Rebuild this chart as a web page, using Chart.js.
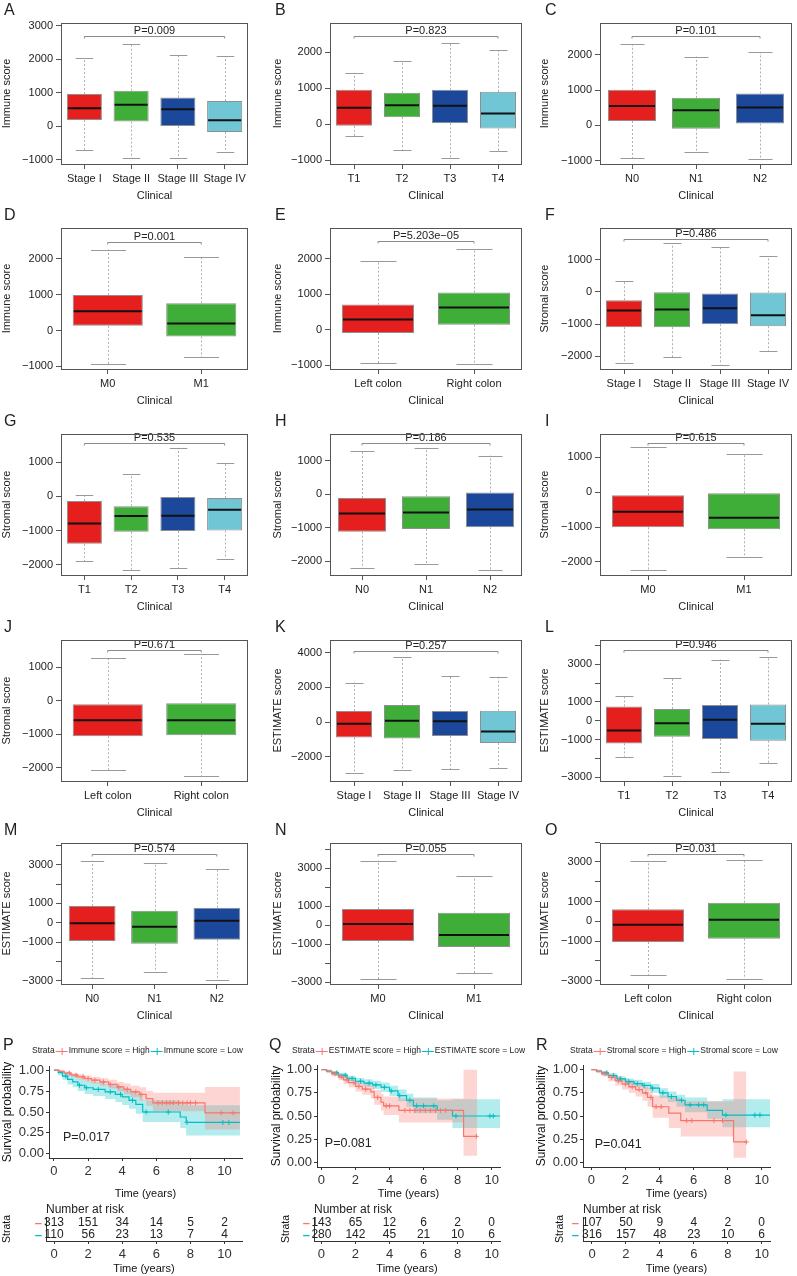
<!DOCTYPE html>
<html><head><meta charset="utf-8">
<script src="https://cdn.jsdelivr.net/npm/chart.js@4.4.1/dist/chart.umd.min.js"></script>
<style>
body{margin:0;background:#fff;}
#root{position:relative;width:797px;height:1276px;overflow:hidden;font-family:"Liberation Sans",Arial,sans-serif;background:#fff;}
canvas{position:absolute;}
.lbl{position:absolute;font-size:16px;color:#222;line-height:1;}
</style></head><body><div id="root"></div>
<script>
// ---------------- categories ----------------
const STAGES = ['Stage I','Stage II','Stage III','Stage IV'];
const TSTAGES = ['T1','T2','T3','T4'];
const NSTAGES = ['N0','N1','N2'];
const MSTAGES = ['M0','M1'];
const SIDES = ['Left colon','Right colon'];

// ---------------- tick values / labels ----------------
const IMM3_TICKS = [-1000,0,1000,2000,3000];
const IMM3_LABELS = ['\u22121000','0','1000','2000','3000'];
const IMM_TICKS = [-1000,0,1000,2000];
const IMM_LABELS = ['\u22121000','0','1000','2000'];
const STR_TICKS = [-2000,-1000,0,1000];
const STR_LABELS = ['\u22122000','\u22121000','0','1000'];
const K_TICKS = [-2000,0,2000,4000];
const K_LABELS = ['\u22122000','0','2000','4000'];
const EST_TICKS = [-3000,-2000,-1000,0,1000,2000,3000,4000];
const EST_LABELS = ['\u22123000','','\u22121000','0','1000','','3000',''];

// ---------------- box statistics (min, q1, median, q3, max) ----------------
const A_min=[-720,-940,-950,-760], A_q1=[190,140,10,-170], A_med=[540,640,510,180], A_q3=[960,1060,860,750], A_max=[2030,2450,2120,2080];
const B_min=[-320,-715,-940,-745], B_q1=[-40,200,30,-115], B_med=[460,530,520,300], B_q3=[960,875,960,905], B_max=[1430,1760,2250,2050];
const C_min=[-930,-750,-950], C_q1=[125,-95,50], C_med=[550,430,510], C_q3=[1010,780,905], C_max=[2310,1950,2070];
const D_min=[-945,-750], D_q1=[130,-165], D_med=[540,195], D_q3=[990,760], D_max=[2260,2065];
const E_min=[-950,-970], E_q1=[-95,140], E_med=[290,625], E_q3=[710,1050], E_max=[1935,2290];
const F_min=[-2210,-2030,-2250,-1840], F_q1=[-1095,-1095,-1005,-1065], F_med=[-580,-550,-510,-725], F_q3=[-260,0,-50,-20], F_max=[350,1500,1385,1095];
const G_min=[-1890,-2150,-2110,-1820], G_q1=[-1390,-1035,-1015,-1000], G_med=[-795,-575,-565,-395], G_q3=[-135,-290,-20,-50], G_max=[40,650,1420,960];
const H_min=[-2190,-2080,-2250], H_q1=[-1115,-1035,-985], H_med=[-575,-545,-460], H_q3=[-115,-60,50], H_max=[1280,1380,1145];
const I_min=[-2225,-1860], I_q1=[-1010,-1065], I_med=[-565,-735], I_q3=[-85,-30], I_max=[1285,1095];
const J_min=[-2080,-2250], J_q1=[-1060,-1030], J_med=[-580,-580], J_q3=[-100,-70], J_max=[1290,1400];
const K_min=[-2940,-2760,-2720,-2630], K_q1=[-890,-945,-810,-1215], K_med=[-95,75,40,-540], K_q3=[640,985,640,655], K_max=[2280,3730,2630,2610];
const L_min=[-1910,-2940,-2745,-2265], L_q1=[-1205,-850,-975,-1060], L_med=[-515,-140,55,-160], L_q3=[760,620,830,865], L_max=[1290,2285,3240,3400];
const M_min=[-2880,-2540,-2960], M_q1=[-950,-1085,-880], M_med=[-35,-205,105], M_q3=[860,620,775], M_max=[3205,3105,2775];
const N_min=[-2850,-2550], N_q1=[-842,-1158], N_med=[53,-526], N_q3=[842,649], N_max=[3386,2579];
const O_min=[-2700,-2900], O_q1=[-1042,-874], O_med=[-168,84], O_q3=[605,941], O_max=[3042,3092];

// p-values and bracket heights
const P_TEXTS = ['P=0.009','P=0.823','P=0.101','P=0.001','P=5.203e\u221205','P=0.486','P=0.535','P=0.186','P=0.615','P=0.671','P=0.257','P=0.946','P=0.574','P=0.055','P=0.031'];
const P_BRACKET = [2690,2465,2540,2465,2510,1635,1555,1515,1405,1520,4115,3735,3570,3755,3410];
// y-axis ranges [min,max]
const Y_RANGES = [[-1124,3078],[-1100,2813],[-1096,2904],[-1074,2861],[-1113,2877],[-2389,1975],[-2301,1822],[-2405,1789],[-2377,1670],[-2400,1820],[-3400,4734],[-3200,4283],[-3170,4121],[-3105,4316],[-3160,3950]];

// ---------------- survival data ----------------
const KM_XTICKS = [0,2,4,6,8,10];
const KM_YTICKS = [0,0.25,0.5,0.75,1];
const KM_YLABELS = ['0.00','0.25','0.50','0.75','1.00'];
const RISK_TIMES = [0,2,4,6,8,10];

const P_high_t  = [0,0.3,0.6,1.0,1.4,1.8,2.2,2.7,3.2,3.7,4.1,4.5,5.0,5.4,5.8,8.85,10.9];
const P_high_s  = [1,0.985,0.965,0.94,0.92,0.90,0.88,0.86,0.83,0.80,0.77,0.74,0.71,0.66,0.61,0.49,0.49];
const P_high_lo = [1,0.97,0.945,0.915,0.89,0.865,0.84,0.815,0.78,0.745,0.71,0.675,0.635,0.575,0.51,0.29,0.29];
const P_high_hi = [1,1.0,0.985,0.965,0.95,0.935,0.92,0.905,0.885,0.86,0.84,0.815,0.795,0.755,0.73,0.80,0.80];
const P_low_t   = [0,0.25,0.5,0.8,1.1,1.4,1.8,2.3,3.0,3.6,4.0,4.4,4.8,5.2,7.4,7.75,10.9];
const P_low_s   = [1,0.97,0.93,0.89,0.86,0.82,0.79,0.77,0.74,0.71,0.68,0.64,0.59,0.50,0.44,0.375,0.375];
const P_low_lo  = [1,0.94,0.885,0.83,0.795,0.75,0.715,0.69,0.655,0.62,0.585,0.54,0.48,0.38,0.31,0.22,0.22];
const P_low_hi  = [1,1.0,0.98,0.95,0.93,0.90,0.875,0.855,0.83,0.81,0.785,0.755,0.715,0.64,0.59,0.58,0.58];
const P_high_cens = [0.9,1.3,1.7,2.0,2.4,2.9,3.3,3.8,4.3,4.8,5.1,6.1,6.35,6.6,6.8,7.0,7.3,7.55,7.8,8.0,8.3,9.8,10.5];
const P_low_cens  = [0.7,1.5,1.9,2.6,3.3,3.9,4.6,5.4,6.7,7.8,9.9,10.25];
const P_risk_high = [313,151,34,14,5,2];
const P_risk_low  = [110,56,23,13,7,4];

const Q_high_t  = [0,0.3,0.6,1.0,1.3,1.6,2.0,2.4,2.9,3.1,3.5,3.65,4.55,8.35,9.15];
const Q_high_s  = [1,0.98,0.955,0.92,0.89,0.86,0.82,0.79,0.76,0.70,0.65,0.61,0.56,0.28,0.28];
const Q_high_lo = [1,0.96,0.93,0.885,0.845,0.81,0.765,0.73,0.69,0.62,0.56,0.51,0.43,0.07,0.07];
const Q_high_hi = [1,1.0,0.98,0.955,0.93,0.905,0.875,0.85,0.83,0.78,0.74,0.71,0.69,1.0,1.0];
const Q_low_t   = [0,0.3,0.6,1.0,1.5,2.0,2.5,3.0,3.5,4.0,4.5,5.0,5.4,6.8,7.7,10.5];
const Q_low_s   = [1,0.985,0.965,0.94,0.905,0.875,0.855,0.835,0.81,0.77,0.72,0.67,0.61,0.56,0.50,0.50];
const Q_low_lo  = [1,0.97,0.945,0.915,0.875,0.84,0.815,0.79,0.76,0.715,0.66,0.60,0.53,0.46,0.37,0.37];
const Q_low_hi  = [1,1.0,0.985,0.965,0.935,0.91,0.895,0.88,0.86,0.825,0.785,0.74,0.70,0.67,0.68,0.68];
const Q_high_cens = [0.8,1.2,1.5,1.9,2.2,2.6,3.3,3.8,4.0,4.9,5.2,5.5,5.8,6.1,6.4,6.7,7.0,7.3,9.1];
const Q_low_cens  = [0.9,1.4,1.8,2.3,2.8,3.2,3.7,4.1,4.6,5.2,5.6,6.0,6.6,7.9,9.9,10.1];
const Q_risk_high = [143,65,12,6,2,0];
const Q_risk_low  = [280,142,45,21,10,6];

const R_high_t  = [0,0.3,0.6,1.0,1.4,1.8,2.2,2.6,3.0,3.3,3.6,4.55,5.25,8.35,9.1];
const R_high_s  = [1,0.98,0.955,0.915,0.88,0.845,0.815,0.785,0.75,0.70,0.60,0.53,0.45,0.22,0.22];
const R_high_lo = [1,0.96,0.93,0.875,0.83,0.785,0.75,0.71,0.665,0.60,0.48,0.37,0.28,0.05,0.05];
const R_high_hi = [1,1.0,0.98,0.955,0.93,0.905,0.885,0.86,0.835,0.80,0.72,0.70,0.66,0.98,0.98];
const R_low_t   = [0,0.3,0.6,1.0,1.5,2.0,2.5,3.0,3.5,4.0,4.5,5.0,5.5,6.8,7.7,10.5];
const R_low_s   = [1,0.985,0.965,0.935,0.90,0.87,0.85,0.83,0.80,0.75,0.71,0.67,0.62,0.56,0.51,0.51];
const R_low_lo  = [1,0.97,0.945,0.91,0.87,0.835,0.81,0.785,0.75,0.695,0.65,0.60,0.54,0.47,0.38,0.38];
const R_low_hi  = [1,1.0,0.985,0.96,0.93,0.905,0.89,0.87,0.845,0.80,0.765,0.73,0.70,0.66,0.68,0.68];
const R_high_cens = [0.8,1.2,1.6,2.0,2.4,2.8,3.2,3.5,3.8,4.1,5.6,5.9,7.2,7.7,9.1];
const R_low_cens  = [0.9,1.3,1.7,2.2,2.7,3.1,3.6,4.2,4.7,5.3,5.8,6.3,6.6,7.9,9.6,9.9];
const R_risk_high = [107,50,9,4,2,0];
const R_risk_low  = [316,157,48,23,10,6];

// ---------------- styles ----------------
const FONT = '"Liberation Sans", Arial, Helvetica, sans-serif';
Chart.defaults.font.family = FONT;
Chart.defaults.color = '#222';
const BOX_COLORS = ['#E41F1D','#3FAE38','#1B489B','#70C6D5'];
const KM_RED = '#F8766D', KM_CYAN = '#00BFC4';
const KM_RED_A = 'rgba(248,118,109,0.3)', KM_CYAN_A = 'rgba(0,191,196,0.3)';

const root = document.getElementById('root');
function mkCanvas(x,y,w,h){
  const c=document.createElement('canvas'); c.width=w; c.height=h;
  c.style.left=x+'px'; c.style.top=y+'px'; c.style.width=w+'px'; c.style.height=h+'px';
  root.appendChild(c); return c;
}
function letter(t,x,y){
  const d=document.createElement('div'); d.className='lbl'; d.textContent=t;
  d.style.left=x+'px'; d.style.top=y+'px'; root.appendChild(d);
}

// ---------------- boxplot plugin ----------------
const boxPlugin = {
  id:'boxExtras',
  beforeDatasetsDraw(chart, args, o){
    const {ctx, chartArea:a, scales:{y}} = chart;
    const meta = chart.getDatasetMeta(0);
    ctx.save();
    ctx.beginPath(); ctx.rect(a.left,a.top,a.width,a.height); ctx.clip();
    meta.data.forEach((bar,i)=>{
      const cx = Math.round(bar.x)+0.5, w = bar.width;
      ctx.strokeStyle='#9a9a9a'; ctx.lineWidth=0.8; ctx.setLineDash([2,2]);
      ctx.beginPath();
      ctx.moveTo(cx, y.getPixelForValue(o.q3[i])); ctx.lineTo(cx, y.getPixelForValue(o.max[i]));
      ctx.moveTo(cx, y.getPixelForValue(o.q1[i])); ctx.lineTo(cx, y.getPixelForValue(o.min[i]));
      ctx.stroke();
      ctx.setLineDash([]); ctx.lineWidth=1; ctx.strokeStyle='#999';
      ctx.beginPath();
      [o.max[i], o.min[i]].forEach(v=>{
        const py=Math.round(y.getPixelForValue(v))+0.5;
        ctx.moveTo(cx-w/4,py); ctx.lineTo(cx+w/4,py);
      });
      ctx.stroke();
    });
    ctx.restore();
  },
  afterDatasetsDraw(chart, args, o){
    const {ctx, chartArea:a, scales:{y}} = chart;
    const meta = chart.getDatasetMeta(0);
    ctx.save();
    ctx.strokeStyle='#111'; ctx.lineWidth=2;
    meta.data.forEach((bar,i)=>{
      const py = y.getPixelForValue(o.med[i]);
      ctx.beginPath(); ctx.moveTo(bar.x-bar.width/2+1, py); ctx.lineTo(bar.x+bar.width/2-1, py); ctx.stroke();
    });
    const x0 = meta.data[0].x, x1 = meta.data[meta.data.length-1].x;
    const by = Math.round(y.getPixelForValue(o.pY))+0.5;
    ctx.strokeStyle='#8a8a8a'; ctx.lineWidth=1;
    ctx.beginPath(); ctx.moveTo(x0, by+2); ctx.lineTo(x0, by); ctx.lineTo(x1, by); ctx.lineTo(x1, by+2); ctx.stroke();
    ctx.fillStyle='#222'; ctx.font='11px '+FONT; ctx.textAlign='center'; ctx.textBaseline='bottom';
    ctx.fillText(o.p, (x0+x1)/2, by);
    ctx.strokeStyle='#555'; ctx.lineWidth=1;
    ctx.strokeRect(Math.round(a.left)+0.5, Math.round(a.top)+0.5, Math.round(a.width)-1, Math.round(a.height));
    ctx.restore();
  }
};

// ---------------- boxplot panels ----------------
const COL_X=[0,265,532], COL_W=[265,267,265], COL_YW=[61,65,68], COL_PR=[17,10,5], COL_TP=[0.4,6,6.4], COL_LX=[4,275,545];
const ROW_TOP=[23,228,434,640,843];
const PLOT_H = 141;

const boxPanels = [
  {id:'A', cats:STAGES,  st:[A_min,A_q1,A_med,A_q3,A_max], yt:'Immune score',   ticks:IMM3_TICKS, labels:IMM3_LABELS},
  {id:'B', cats:TSTAGES, st:[B_min,B_q1,B_med,B_q3,B_max], yt:'Immune score',   ticks:IMM_TICKS, labels:IMM_LABELS},
  {id:'C', cats:NSTAGES, st:[C_min,C_q1,C_med,C_q3,C_max], yt:'Immune score',   ticks:IMM_TICKS, labels:IMM_LABELS},
  {id:'D', cats:MSTAGES, st:[D_min,D_q1,D_med,D_q3,D_max], yt:'Immune score',   ticks:IMM_TICKS, labels:IMM_LABELS},
  {id:'E', cats:SIDES,   st:[E_min,E_q1,E_med,E_q3,E_max], yt:'Immune score',   ticks:IMM_TICKS, labels:IMM_LABELS},
  {id:'F', cats:STAGES,  st:[F_min,F_q1,F_med,F_q3,F_max], yt:'Stromal score',  ticks:STR_TICKS, labels:STR_LABELS},
  {id:'G', cats:TSTAGES, st:[G_min,G_q1,G_med,G_q3,G_max], yt:'Stromal score',  ticks:STR_TICKS, labels:STR_LABELS},
  {id:'H', cats:NSTAGES, st:[H_min,H_q1,H_med,H_q3,H_max], yt:'Stromal score',  ticks:STR_TICKS, labels:STR_LABELS},
  {id:'I', cats:MSTAGES, st:[I_min,I_q1,I_med,I_q3,I_max], yt:'Stromal score',  ticks:STR_TICKS, labels:STR_LABELS},
  {id:'J', cats:SIDES,   st:[J_min,J_q1,J_med,J_q3,J_max], yt:'Stromal score',  ticks:STR_TICKS, labels:STR_LABELS},
  {id:'K', cats:STAGES,  st:[K_min,K_q1,K_med,K_q3,K_max], yt:'ESTIMATE score', ticks:K_TICKS, labels:K_LABELS},
  {id:'L', cats:TSTAGES, st:[L_min,L_q1,L_med,L_q3,L_max], yt:'ESTIMATE score', ticks:EST_TICKS, labels:EST_LABELS},
  {id:'M', cats:NSTAGES, st:[M_min,M_q1,M_med,M_q3,M_max], yt:'ESTIMATE score', ticks:EST_TICKS, labels:EST_LABELS},
  {id:'N', cats:MSTAGES, st:[N_min,N_q1,N_med,N_q3,N_max], yt:'ESTIMATE score', ticks:EST_TICKS, labels:EST_LABELS},
  {id:'O', cats:SIDES,   st:[O_min,O_q1,O_med,O_q3,O_max], yt:'ESTIMATE score', ticks:EST_TICKS, labels:EST_LABELS}
];

boxPanels.forEach((p, idx)=>{
  const col = idx % 3, row = Math.floor(idx/3);
  const top = ROW_TOP[row] - 23;
  const H = 23 + PLOT_H + 42;
  const c = mkCanvas(COL_X[col], top, COL_W[col], H);
  letter(p.id, COL_LX[col], top + 2);
  const [mn,q1,md,q3,mx] = p.st;
  const n = p.cats.length;
  new Chart(c, {
    type:'bar',
    data:{labels:p.cats, datasets:[{
      data:q1.map((v,i)=>[v,q3[i]]),
      backgroundColor:BOX_COLORS.slice(0,n), borderColor:'#8f8f8f', borderWidth:1, borderSkipped:false,
      barPercentage:0.75, categoryPercentage:1
    }]},
    options:{
      responsive:false, animation:false, events:[],
      layout:{padding:{top:23, right:COL_PR[col], left:0, bottom:0}},
      plugins:{legend:{display:false}, tooltip:{enabled:false},
        boxExtras:{min:mn, q1:q1, med:md, q3:q3, max:mx, p:P_TEXTS[idx], pY:P_BRACKET[idx]}},
      scales:{
        x:{offset:true,
           grid:{display:true, drawOnChartArea:false, drawTicks:true, tickLength:5, color:'#555', offset:false},
           border:{display:false},
           ticks:{color:'#222', font:{size:11}, padding:3, maxRotation:0, autoSkip:false},
           title:{display:true, text:'Clinical', color:'#222', font:{size:11}, padding:{top:0,bottom:3}},
           afterFit(s){ s.height = 42; }},
        y:{min:Y_RANGES[idx][0], max:Y_RANGES[idx][1],
           afterBuildTicks(s){ s.ticks = p.ticks.map(v=>({value:v})); },
           grid:{drawOnChartArea:false, drawTicks:true, tickLength:5, color:'#555'},
           border:{display:false},
           ticks:{color:'#222', font:{size:11}, padding:3, autoSkip:false, callback:(v,i)=>p.labels[i]},
           title:{display:true, text:p.yt, color:'#222', font:{size:11}, padding:{top:COL_TP[col], bottom:0}},
           afterFit(s){ s.width = COL_YW[col]; }}
      }
    },
    plugins:[boxPlugin]
  });
});

// ---------------- survival plugins ----------------
function stepAt(t, ts, ss){ let v=ss[0]; for(let i=0;i<ts.length;i++){ if(ts[i]<=t) v=ss[i]; } return v; }
function pts(ts, ss){ return ts.map((t,i)=>({x:t, y:ss[i]})); }

const kmPlugin = {
  id:'kmExtras',
  afterDraw(chart, args, o){
    const {ctx, scales:{x,y}} = chart;
    ctx.save();
    ctx.font = '8.5px '+FONT; ctx.textBaseline='middle'; ctx.textAlign='left'; ctx.fillStyle='#222';
    let lx = o.legendX; const ly = 11;
    ctx.fillText('Strata', lx, ly); lx += ctx.measureText('Strata').width + 1;
    o.labels.forEach((lab,i)=>{
      ctx.strokeStyle = o.colors[i]; ctx.lineWidth = 1;
      ctx.beginPath(); ctx.moveTo(lx, ly+0.5); ctx.lineTo(lx+12, ly+0.5);
      ctx.moveTo(lx+6.5, ly-3); ctx.lineTo(lx+6.5, ly+4); ctx.stroke();
      lx += 13;
      ctx.fillStyle='#222'; ctx.fillText(lab, lx, ly); lx += ctx.measureText(lab).width + 1;
    });
    ctx.font = '12.5px '+FONT; ctx.fillStyle='#222';
    ctx.fillText(o.p, x.getPixelForValue(o.px), y.getPixelForValue(o.py));
    ctx.restore();
  }
};

const riskPlugin = {
  id:'riskExtras',
  afterDraw(chart, args, o){
    const {ctx, chartArea:a} = chart;
    ctx.save();
    ctx.font='12px '+FONT; ctx.fillStyle='#222'; ctx.textAlign='left'; ctx.textBaseline='middle';
    ctx.fillText('Number at risk', a.left, 10);
    ctx.textAlign='center';
    chart.data.datasets.forEach((ds,d)=>{
      chart.getDatasetMeta(d).data.forEach((pt,i)=>{ ctx.fillText(String(ds.data[i].n), pt.x, pt.y); });
    });
    ctx.restore();
  }
};

const kmPanels = [
  {id:'P', x:0, w:265, padTop:26, xh:44, yw:49, pr:23, xmin:-0.29, xmax:11.02, ytp:0, legendX:32,
   labels:['Immune score = High','Immune score = Low'], p:'P=0.017', px:0.53, py:0.2,
   hi:[P_high_t,P_high_s,P_high_lo,P_high_hi,P_high_cens], lo:[P_low_t,P_low_s,P_low_lo,P_low_hi,P_low_cens],
   risk:[P_risk_high,P_risk_low], rw:46, rxmin:-0.47, rtp:0.7},
  {id:'Q', x:265, w:267, padTop:25, xh:35, yw:52, pr:32, xmin:-0.26, xmax:10.49, ytp:4.5, legendX:27,
   labels:['ESTIMATE score = High','ESTIMATE score = Low'], p:'P=0.081', px:0.2, py:0.2,
   hi:[Q_high_t,Q_high_s,Q_high_lo,Q_high_hi,Q_high_cens], lo:[Q_low_t,Q_low_s,Q_low_lo,Q_low_hi,Q_low_cens],
   risk:[Q_risk_high,Q_risk_low], rw:49, rxmin:-0.435, rtp:14.4},
  {id:'R', x:532, w:265, padTop:25, xh:35, yw:51, pr:27, xmin:-0.49, xmax:10.49, ytp:2.5, legendX:38,
   labels:['Stromal score = High','Stromal score = Low'], p:'P=0.041', px:0.2, py:0.19,
   hi:[R_high_t,R_high_s,R_high_lo,R_high_hi,R_high_cens], lo:[R_low_t,R_low_s,R_low_lo,R_low_hi,R_low_cens],
   risk:[R_risk_high,R_risk_low], rw:51, rxmin:-0.53, rtp:21.7}
];

kmPanels.forEach((p)=>{
  letter(p.id, p.x + (p.x ? 4 : 3), 1037);
  const c = mkCanvas(p.x, 1040, p.w, 162);
  const [hT,hS,hLo,hHi,hC] = p.hi, [lT,lS,lLo,lHi,lC] = p.lo;
  const lineBase = {type:'line', stepped:true, pointRadius:0, tension:0};
  new Chart(c, {
    type:'line',
    data:{datasets:[
      {type:'scatter', data:hC.map(t=>({x:t,y:stepAt(t,hT,hS)})), pointStyle:'cross', pointRadius:2.5, borderColor:KM_RED, borderWidth:1, order:1},
      {type:'scatter', data:lC.map(t=>({x:t,y:stepAt(t,lT,lS)})), pointStyle:'cross', pointRadius:2.5, borderColor:KM_CYAN, borderWidth:1, order:1},
      Object.assign({}, lineBase, {data:pts(hT,hS), borderColor:KM_RED, borderWidth:1.2, fill:false, order:2}),
      Object.assign({}, lineBase, {data:pts(lT,lS), borderColor:KM_CYAN, borderWidth:1.2, fill:false, order:2}),
      Object.assign({}, lineBase, {data:pts(hT,hHi), borderColor:'transparent', borderWidth:0, fill:'+1', backgroundColor:KM_RED_A, order:3}),
      Object.assign({}, lineBase, {data:pts(hT,hLo), borderColor:'transparent', borderWidth:0, fill:false, order:3}),
      Object.assign({}, lineBase, {data:pts(lT,lHi), borderColor:'transparent', borderWidth:0, fill:'+1', backgroundColor:KM_CYAN_A, order:3}),
      Object.assign({}, lineBase, {data:pts(lT,lLo), borderColor:'transparent', borderWidth:0, fill:false, order:3})
    ]},
    options:{
      responsive:false, animation:false, events:[],
      layout:{padding:{top:p.padTop, right:p.pr, left:0, bottom:0}},
      plugins:{legend:{display:false}, tooltip:{enabled:false},
        kmExtras:{legendX:p.legendX, labels:p.labels, colors:[KM_RED,KM_CYAN], p:p.p, px:p.px, py:p.py}},
      scales:{
        x:{type:'linear', min:p.xmin, max:p.xmax,
           afterBuildTicks(s){ s.ticks = KM_XTICKS.map(v=>({value:v})); },
           grid:{drawOnChartArea:false, drawTicks:true, tickLength:3, color:'#333'},
           border:{display:true, color:'#333', width:1},
           ticks:{color:'#333', font:{size:13}, padding:3, maxRotation:0, autoSkip:false},
           title:{display:true, text:'Time (years)', color:'#111', font:{size:11}, padding:{top:0,bottom:1.4}},
           afterFit(s){ s.height = p.xh; }},
        y:{type:'linear', min:-0.05, max:1.05,
           afterBuildTicks(s){ s.ticks = KM_YTICKS.map(v=>({value:v})); },
           grid:{drawOnChartArea:false, drawTicks:true, tickLength:3, color:'#333'},
           border:{display:true, color:'#333', width:1},
           ticks:{color:'#333', font:{size:13}, padding:2, autoSkip:false, callback:(v,i)=>KM_YLABELS[i]},
           title:{display:true, text:'Survival probability', color:'#111', font:{size:12}, padding:{top:p.ytp,bottom:0}},
           afterFit(s){ s.width = p.yw; }}
      }
    },
    plugins:[kmPlugin]
  });

  // risk table
  const rc = mkCanvas(p.x, 1200, p.w, 76);
  new Chart(rc, {
    type:'scatter',
    data:{datasets:[
      {data:RISK_TIMES.map((t,i)=>({x:t, y:'High', n:p.risk[0][i]})), pointRadius:0},
      {data:RISK_TIMES.map((t,i)=>({x:t, y:'Low', n:p.risk[1][i]})), pointRadius:0}
    ]},
    options:{
      responsive:false, animation:false, events:[],
      layout:{padding:{top:17, right:p.pr, left:0, bottom:0}},
      plugins:{legend:{display:false}, tooltip:{enabled:false}},
      scales:{
        x:{type:'linear', min:p.rxmin, max:p.xmax,
           afterBuildTicks(s){ s.ticks = KM_XTICKS.map(v=>({value:v})); },
           grid:{drawOnChartArea:false, drawTicks:true, tickLength:3, color:'#333'},
           border:{display:true, color:'#333', width:1},
           ticks:{color:'#333', font:{size:13}, padding:2.5, maxRotation:0, autoSkip:false},
           title:{display:true, text:'Time (years)', color:'#111', font:{size:11}, padding:{top:0,bottom:0}},
           afterFit(s){ s.height = 35; }},
        y:{type:'category', labels:['High','Low'], offset:true,
           grid:{drawOnChartArea:false, drawTicks:false},
           border:{display:true, color:'#333', width:1},
           ticks:{font:{size:13, weight:'bold'}, padding:4, autoSkip:false, color:(ctx)=> ctx.index===0 ? KM_RED : KM_CYAN, callback:()=> '\u2013'},
           title:{display:true, text:'Strata', color:'#111', font:{size:10.5}, padding:{top:p.rtp,bottom:0}},
           afterFit(s){ s.width = p.rw; }}
      }
    },
    plugins:[riskPlugin]
  });
});
</script>
</body></html>
